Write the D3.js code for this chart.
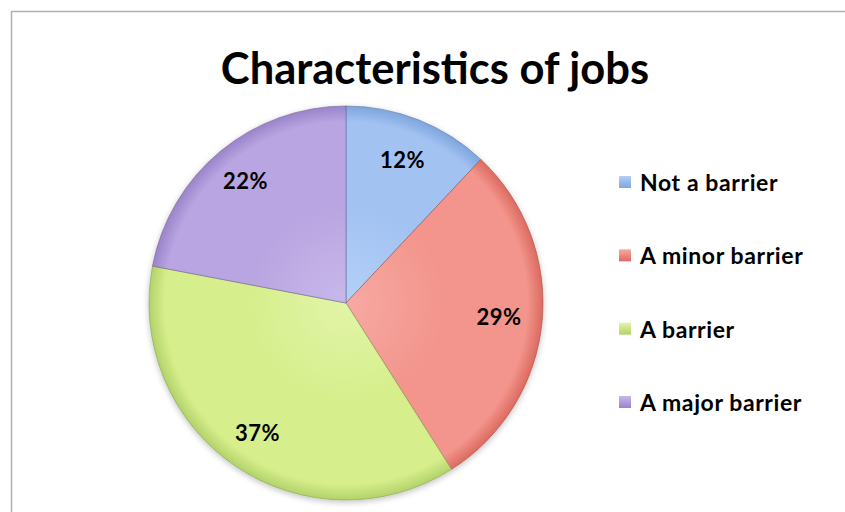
<!DOCTYPE html>
<html><head><meta charset="utf-8">
<script src="https://cdn.jsdelivr.net/npm/d3@7"></script>
<style>body{margin:0;background:#fff;}svg{display:block;}</style>
</head><body>
<script>
const categories = ["Not a barrier", "A minor barrier", "A barrier", "A major barrier"];
const values = [12, 29, 37, 22];
const labels = ["12%", "29%", "37%", "22%"];
const title = "Characteristics of jobs";

const W = 845, H = 512;
const colors = [
  {mid:"#a2c2f2", edge:"#7ea5dd", light:"#b4d0f7"},
  {mid:"#f3958c", edge:"#dc6a60", light:"#f6aaa3"},
  {mid:"#d6ef8c", edge:"#b3d26a", light:"#e2f4a8"},
  {mid:"#b9a5e1", edge:"#9a84cb", light:"#c8b8ea"}
];
const svg = d3.select("body").append("svg").attr("width", W).attr("height", H);
const defs = svg.append("defs");
colors.forEach((c,i)=>{
  const g = defs.append("radialGradient").attr("id","g"+i).attr("gradientUnits","userSpaceOnUse")
    .attr("cx",0).attr("cy",0).attr("r",197);
  g.append("stop").attr("offset","0").attr("stop-color",c.light);
  g.append("stop").attr("offset","0.5").attr("stop-color",c.mid);
  g.append("stop").attr("offset","0.92").attr("stop-color",c.mid);
  g.append("stop").attr("offset","1").attr("stop-color",c.edge);
  const lg = defs.append("linearGradient").attr("id","l"+i).attr("x1",0).attr("y1",0).attr("x2",0).attr("y2",1);
  lg.append("stop").attr("offset","0").attr("stop-color",c.light);
  lg.append("stop").attr("offset","1").attr("stop-color",c.edge);
});
const f = defs.append("filter").attr("id","sh").attr("x","-10%").attr("y","-10%").attr("width","120%").attr("height","120%");
f.append("feGaussianBlur").attr("in","SourceAlpha").attr("stdDeviation",3);
f.append("feOffset").attr("dx",0).attr("dy",2).attr("result","b");
f.append("feComponentTransfer").append("feFuncA").attr("type","linear").attr("slope",0.25);
const fm = f.append("feMerge"); fm.append("feMergeNode"); fm.append("feMergeNode").attr("in","SourceGraphic");

// frame
svg.append("rect").attr("x",11.5).attr("y",11.5).attr("width",W).attr("height",H)
  .attr("fill","none").attr("stroke","#b0b0b0").attr("stroke-width",1.5);

svg.append("text").attr("x",435).attr("y",84).attr("text-anchor","middle")
  .attr("font-family","Lato, 'Open Sans', sans-serif").attr("font-weight","bold")
  .attr("font-size",43.5).attr("fill","#000").text(title);

const cx = 346, cy = 303, R = 197;
const pie = d3.pie().sort(null).value(d=>d)(values);
const arc = d3.arc().innerRadius(0).outerRadius(R);
const g = svg.append("g").attr("transform",`translate(${cx},${cy})`);
g.append("g").attr("filter","url(#sh)").selectAll("path").data(pie).join("path")
  .attr("d",arc).attr("fill",(d,i)=>`url(#g${i})`)
  .attr("stroke",(d,i)=>d3.color(colors[i].edge).darker(0.8)).attr("stroke-width",1).attr("stroke-opacity",0.6);

const labelR = [0.78, 0.78, 0.8, 0.8];
g.selectAll("text.lbl").data(pie).join("text").attr("class","lbl")
  .each(function(d,i){
    const a = d3.arc().innerRadius(R*labelR[i]).outerRadius(R*labelR[i]).centroid(d);
    d3.select(this).attr("x",a[0]).attr("y",a[1]);
  })
  .attr("text-anchor","middle").attr("dy","0.35em")
  .attr("font-family","Lato, 'Open Sans', sans-serif").attr("font-weight","bold")
  .attr("font-size",22).attr("letter-spacing",0.5).attr("fill","#000").text((d,i)=>labels[i]);

const leg = svg.append("g");
const ly = d3.scalePoint().domain(categories).range([183,403]);
categories.forEach((c,i)=>{
  const y = ly(c);
  leg.append("rect").attr("x",619).attr("y",y-7).attr("width",12).attr("height",12)
    .attr("fill",`url(#l${i})`);
  leg.append("text").attr("x",640).attr("y",y).attr("dy","0.35em")
    .attr("font-family","Lato, 'Open Sans', sans-serif").attr("font-weight","bold")
    .attr("font-size",23).attr("letter-spacing",0.6).attr("fill","#000").text(c);
});
</script>
</body></html>
